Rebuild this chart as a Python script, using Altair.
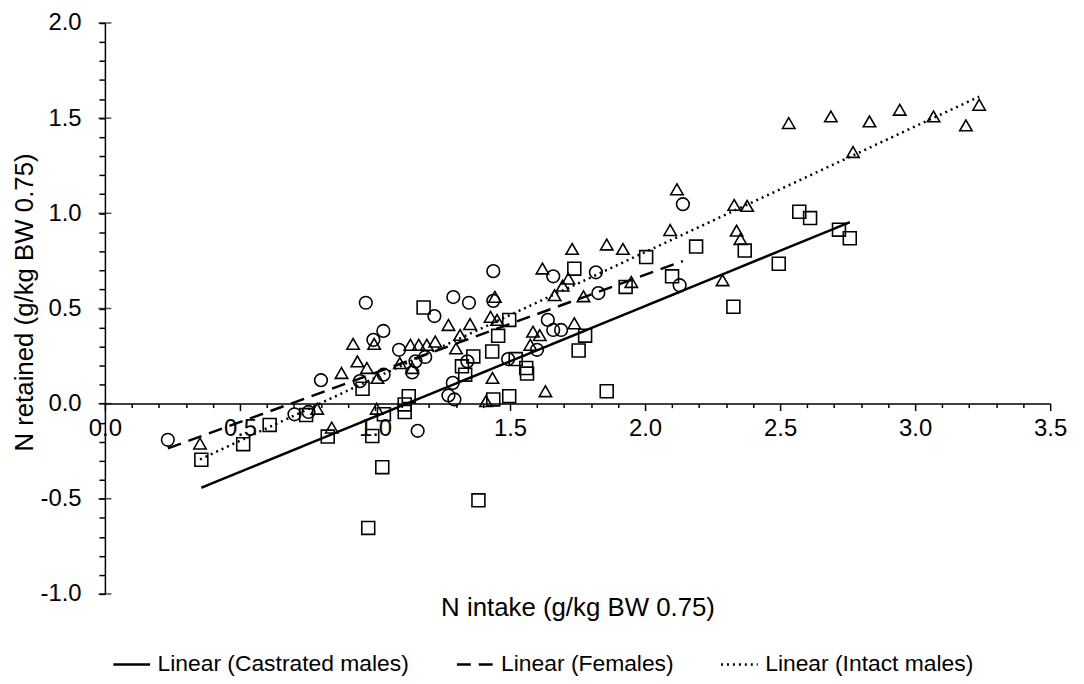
import altair as alt
import pandas as pd

FONT = "Liberation Sans"

# ---------------- data ----------------
groups = ["Castrated males", "Females", "Intact males"]

castrated_x = [0.357, 0.512, 0.610, 0.745, 0.825, 0.954, 0.990, 1.027, 1.033, 1.110,
               1.110, 1.125, 1.180, 1.322, 1.334, 1.364, 1.434, 1.438, 1.456, 1.497,
               1.497, 1.521, 1.560, 1.563, 1.738, 1.754, 1.778, 1.858, 1.928, 2.004,
               2.100, 2.189, 2.327, 2.369, 2.495, 2.571, 2.611, 2.718, 2.758, 1.383,
               0.975]
castrated_y = [-0.295, -0.213, -0.112, -0.060, -0.173, 0.078, -0.170, -0.334, -0.056, -0.004,
               -0.044, 0.039, 0.505, 0.196, 0.152, 0.248, 0.274, 0.022, 0.356, 0.440,
               0.039, 0.234, 0.187, 0.158, 0.709, 0.279, 0.357, 0.065, 0.613, 0.770,
               0.669, 0.825, 0.509, 0.804, 0.735, 1.008, 0.975, 0.914, 0.869, -0.508,
               -0.653]

females_x = [0.233, 0.702, 0.754, 0.800, 0.944, 0.966, 0.994, 1.031, 1.032, 1.089,
             1.138, 1.150, 1.158, 1.186, 1.220, 1.290, 1.348, 1.342, 1.288, 1.272,
             1.294, 1.438, 1.438, 1.493, 1.600, 1.640, 1.660, 1.660, 1.689, 1.818,
             1.827, 2.140, 2.128]
females_y = [-0.190, -0.056, -0.044, 0.123, 0.118, 0.530, 0.335, 0.382, 0.152, 0.283,
             0.164, 0.222, -0.143, 0.245, 0.460, 0.560, 0.530, 0.222, 0.109, 0.043,
             0.022, 0.696, 0.540, 0.234, 0.283, 0.440, 0.387, 0.669, 0.387, 0.690,
             0.581, 1.048, 0.622]

intact_x = [0.352, 0.786, 0.840, 0.876, 0.919, 0.935, 0.970, 0.997, 1.009, 1.006,
            1.092, 1.131, 1.162, 1.192, 1.223, 1.138, 1.272, 1.315, 1.352, 1.300,
            1.444, 1.428, 1.452, 1.435, 1.411, 1.575, 1.585, 1.610, 1.620, 1.665,
            1.631, 1.730, 1.716, 1.695, 1.772, 1.738, 1.858, 1.918, 1.949, 2.118,
            2.093, 2.287, 2.330, 2.378, 2.339, 2.353, 2.532, 2.688, 2.831, 2.943,
            3.068, 3.237, 3.188, 2.770]
intact_y = [-0.210, -0.027, -0.126, 0.161, 0.314, 0.222, 0.187, 0.314, 0.135, -0.027,
            0.213, 0.309, 0.309, 0.309, 0.326, 0.187, 0.413, 0.361, 0.418, 0.290,
            0.561, 0.456, 0.440, 0.135, 0.013, 0.309, 0.378, 0.360, 0.710, 0.570,
            0.065, 0.813, 0.657, 0.620, 0.564, 0.422, 0.836, 0.813, 0.639, 1.126,
            0.912, 0.648, 1.044, 1.039, 0.909, 0.865, 1.474, 1.509, 1.483, 1.544,
            1.509, 1.570, 1.462, 1.322]

# trend lines (end points)
trend_labels = ["Linear (Castrated males)", "Linear (Females)", "Linear (Intact males)"]
trend_x0 = [0.357, 0.233, 0.352]
trend_y0 = [-0.442, -0.235, -0.293]
trend_x1 = [2.758, 2.140, 3.237]
trend_y1 = [0.953, 0.749, 1.613]

# axis tick values
x_ticks = [round(0.1 * i, 1) for i in range(36)]
y_ticks = [round(-1.0 + 0.1 * i, 1) for i in range(31)]
y_major = [-1.0, -0.5, 0.0, 0.5, 1.0, 1.5, 2.0]

# ---------------- tables ----------------
rows = []
for g, xs, ys in zip(groups, [castrated_x, females_x, intact_x], [castrated_y, females_y, intact_y]):
    for a, b in zip(xs, ys):
        rows.append({"group": g, "x": a, "y": b})
pts = pd.DataFrame(rows)

trows = []
for lab, a0, b0, a1, b1 in zip(trend_labels, trend_x0, trend_y0, trend_x1, trend_y1):
    trows.append({"label": lab, "x": a0, "y": b0})
    trows.append({"label": lab, "x": a1, "y": b1})
trend = pd.DataFrame(trows)

majors = pd.DataFrame({"y": y_major})

# ---------------- layout ----------------
W, H = 952, 575
x_scale = alt.Scale(domain=[0, 3.5], nice=False, zero=False)
y_scale = alt.Scale(domain=[-1, 2], nice=False, zero=False)

major_test = "abs(datum.value*2 - round(datum.value*2)) < 0.001"
label_expr = (f"({major_test}) ? (datum.value < -0.001 ? '-' + format(-datum.value, '.1f') "
              f": format(abs(datum.value), '.1f')) : ''")

x_axis = alt.Axis(
    values=x_ticks, labelExpr=label_expr, grid=False,
    offset=-(H / 3.0),
    tickSize={"condition": {"test": major_test, "value": 7}, "value": 4},
    tickColor="black", tickWidth=1.5, domainColor="black", domainWidth=1.5,
    labelFont=FONT, labelFontSize=24, labelColor="black", labelPadding=6,
    labelOverlap=False, labelFlush=False, labelBound=False,
    title="N intake (g/kg BW 0.75)", titleFont=FONT, titleFontSize=26,
    titleFontWeight="normal", titleColor="black", titleY=205, titleBaseline="middle",
)
y_axis = alt.Axis(
    values=y_ticks, labelExpr=label_expr, grid=False,
    tickSize=6, tickColor="black", tickWidth=1.5, domainColor="black", domainWidth=1.5,
    labelFont=FONT, labelFontSize=24, labelColor="black", labelPadding=18,
    labelOverlap=False, labelFlush=False, labelBound=False,
    title="N retained (g/kg BW 0.75)", titleFont=FONT, titleFontSize=26,
    titleFontWeight="normal", titleColor="black", titleX=-81, titleY=281,
    titleAngle=270, titleAlign="center", titleBaseline="middle",
)

X = alt.X("x:Q", scale=x_scale, axis=x_axis)
Y = alt.Y("y:Q", scale=y_scale, axis=y_axis)

points = alt.Chart(pts).mark_point(filled=False, color="black", strokeWidth=1.6, opacity=1).encode(
    x=X, y=Y,
    shape=alt.Shape("group:N", scale=alt.Scale(domain=groups, range=["square", "circle", "triangle-up"]), legend=None),
    size=alt.Size("group:O", scale=alt.Scale(domain=groups, range=[169, 156, 225]), legend=None),
)

lines = alt.Chart(trend).mark_line(color="black", strokeWidth=2.5).encode(
    x=X, y=Y,
    strokeDash=alt.StrokeDash(
        "label:N",
        scale=alt.Scale(domain=trend_labels, range=[[1, 0], [14, 8], [2, 4]]),
        legend=alt.Legend(
            title=None, orient="none", legendX=7, legendY=626, direction="horizontal",
            symbolType="stroke", symbolSize=1369, symbolStrokeWidth=2.5,
            symbolStrokeColor="black", labelFont=FONT, labelFontSize=23,
            labelColor="black", labelOffset=6, columnPadding=42, padding=0, labelLimit=0,
        ),
    ),
)

major_ticks = alt.Chart(majors).mark_tick(orient="horizontal", size=13, thickness=1.5, color="black").encode(
    x=alt.X(datum=0, scale=x_scale, axis=x_axis, type="quantitative"),
    y=Y,
)

chart = alt.layer(points, lines, major_ticks).properties(
    width=W, height=H,
    autosize=alt.AutoSizeParams(type="none"),
    padding={"left": 97.6, "top": 12.7, "right": 26, "bottom": 88},
    background="white",
).configure_view(stroke=None).configure_axis(labelOverlap=False)

chart.save("out.html", embed_options={"renderer": "svg", "actions": False})
